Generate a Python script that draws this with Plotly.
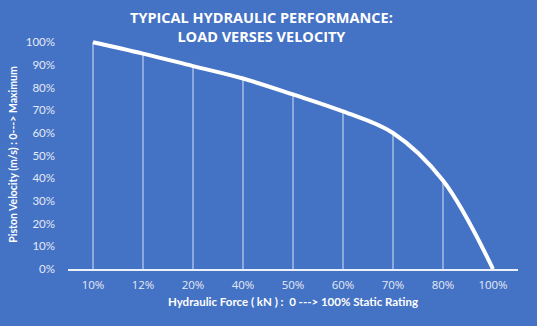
import plotly.graph_objects as go

categories = ["10%", "12%", "20%", "40%", "50%", "60%", "70%", "80%", "100%"]
velocity = [100, 95, 89.5, 84, 77, 69.5, 60, 39, 0]
y_ticks = list(range(0, 101, 10))
y_labels = [f"{v}%" for v in y_ticks]

BG = "#4472C4"
FONT = "Lato, 'Open Sans', sans-serif"

fig = go.Figure()
fig.add_trace(go.Scatter(
    x=categories, y=velocity, mode="lines",
    line=dict(color="white", width=4, shape="spline", smoothing=1.0),
    error_y=dict(type="data", symmetric=False, array=[0] * len(velocity),
                 arrayminus=velocity, width=0, thickness=1,
                 color="rgba(255,255,255,0.8)"),
    hoverinfo="x+y", showlegend=False,
))

fig.update_layout(
    width=537, height=326,
    paper_bgcolor=BG, plot_bgcolor=BG,
    margin=dict(l=68, r=19, t=40, b=57),
    font=dict(family=FONT, color="white"),
    annotations=[dict(
        text="<b>TYPICAL HYDRAULIC PERFORMANCE:<br>LOAD VERSES VELOCITY</b>",
        xref="paper", yref="paper", x=0.43, y=1.15,
        xanchor="center", yanchor="top", showarrow=False,
        font=dict(family="'Open Sans', sans-serif", size=14.5, color="white"),
    )],
)
fig.update_xaxes(
    type="category", range=[-0.5, 8.5],
    showline=True, linecolor="rgba(255,255,255,0.9)", linewidth=2,
    showgrid=False, ticks="", ticklen=0, ticklabelstandoff=4,
    tickfont=dict(family="'Open Sans', sans-serif", size=11.5, color="#e4eaf6"),
    title=dict(text="<b>Hydraulic Force ( kN ) :  0 ---> 100% Static Rating</b>",
               font=dict(size=11.5, color="white"), standoff=7),
    zeroline=False,
)
fig.update_yaxes(
    range=[0, 101], tickvals=y_ticks, ticktext=y_labels,
    showgrid=False, showline=False, zeroline=False, ticklabelstandoff=12,
    tickfont=dict(size=11.5, color="#e4eaf6"),
    title=dict(text="<b>Piston Velocity (m/s) : 0---> Maximum</b>",
               font=dict(size=10.5, color="white"), standoff=6),
)

fig.write_html("out.html")
